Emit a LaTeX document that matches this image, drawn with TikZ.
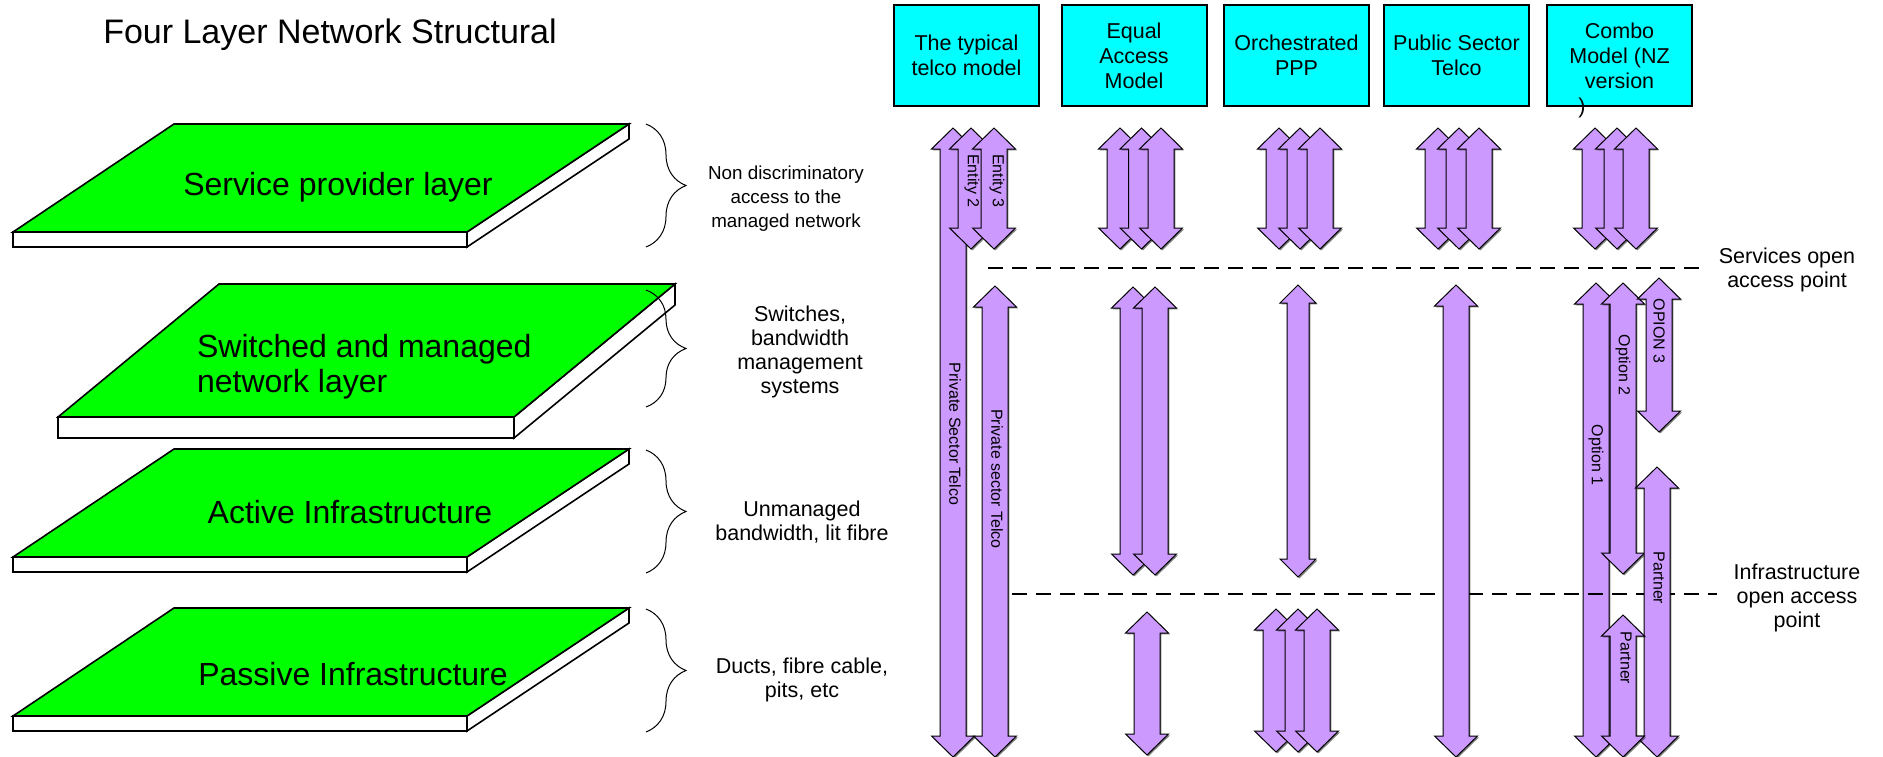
\documentclass[tikz,border=0pt]{standalone}
\usepackage{fontspec}
\setmainfont{Liberation Sans}
\usetikzlibrary{decorations.pathreplacing,shadows}

\definecolor{layergreen}{RGB}{0,255,0}
\definecolor{boxcyan}{RGB}{0,255,255}
\definecolor{arrowlilac}{RGB}{204,153,255}

% arrow sizes (half head width, half shaft width, head length)
\newcommand{\arwHead}{21.5}
\newcommand{\arwShaft}{13}
\newcommand{\arwLen}{21}
% x, top tip, bottom tip
\newcommand{\blockarrow}[3]{%
  \filldraw[arrowbox] (#1,#2) -- ({#1+\arwHead},{#2+\arwLen}) -- ({#1+\arwShaft},{#2+\arwLen})
    -- ({#1+\arwShaft},{#3-\arwLen}) -- ({#1+\arwHead},{#3-\arwLen}) -- (#1,#3)
    -- ({#1-\arwHead},{#3-\arwLen}) -- ({#1-\arwShaft},{#3-\arwLen})
    -- ({#1-\arwShaft},{#2+\arwLen}) -- ({#1-\arwHead},{#2+\arwLen}) -- cycle;}

\begin{document}
\begin{tikzpicture}[x=0.5pt,y=-0.5pt,
  layer/.style={fill=layergreen,draw=black,line width=0.8pt},
  slab/.style={fill=white,draw=black,line width=0.8pt},
  layertext/.style={font=\fontsize{16pt}{17.5pt}\selectfont},
  bracket/.style={decorate,decoration={brace,amplitude=20pt},line width=0.5pt},
  sidetext/.style={align=center,font=\fontsize{10.75pt}{12pt}\selectfont},
  hdrbox/.style={draw=black,line width=1pt,fill=boxcyan,minimum width=72.5pt,
    minimum height=50.5pt,align=center,font=\fontsize{10.75pt}{12.5pt}\selectfont},
  arrowbox/.style={fill=arrowlilac,draw=black,line width=0.5pt,
    drop shadow={shadow xshift=0.7pt,shadow yshift=-0.7pt,opacity=0.5,fill=black}},
  arrowtext/.style={rotate=-90,font=\fontsize{8pt}{9pt}\selectfont},
  openline/.style={dash pattern=on 7.5pt off 4.5pt,line width=0.9pt}]
\useasboundingbox (0,0) rectangle (1883,756);

\node[font=\fontsize{17pt}{20pt}\selectfont,anchor=base] (title) at (330,43) {Four Layer Network Structural};

% layers
\foreach \t in {124,449,608} {
  \filldraw[slab] (13,\t+108) rectangle (467,\t+123);
  \filldraw[slab] (467,\t+108) -- (629,\t) -- (629,\t+15) -- (467,\t+123) -- cycle;
  \filldraw[layer] (174,\t) -- (629,\t) -- (467,\t+108) -- (13,\t+108) -- cycle;
}
\filldraw[slab] (58,417) rectangle (514,438);
\filldraw[slab] (514,417) -- (675,284) -- (675,305) -- (514,438) -- cycle;
\filldraw[layer] (219,284) -- (675,284) -- (514,417) -- (58,417) -- cycle;

\node[layertext,anchor=base] (service) at (338,195) {Service provider layer};
\node[layertext,align=left,anchor=north west] (switched) at (190,327) {Switched and managed\\network layer};
\node[layertext,anchor=base] (active) at (350,523) {Active Infrastructure};
\node[layertext,anchor=base] (passive) at (353,685) {Passive Infrastructure};

% braces
\draw[bracket] (646,124) -- (646,247);
\draw[bracket] (646,290) -- (646,407);
\draw[bracket] (646,450) -- (646,573);
\draw[bracket] (646,609) -- (646,732);

\node[sidetext,font=\fontsize{9.4pt}{12pt}\selectfont] (nondisc) at (786,199) {Non discriminatory\\access to the\\managed network};
\node[sidetext] (switches) at (800,352) {Switches,\\bandwidth\\management\\systems};
\node[sidetext] (unmanaged) at (802,522) {Unmanaged\\bandwidth, lit fibre};
\node[sidetext] (ducts) at (802,680) {Ducts, fibre cable,\\pits, etc};

% models
\node[hdrbox] (typical) at (966.5,55.5) {The typical\\telco model};
\node[hdrbox] (equal) at (1134,55.5) {Equal\\Access\\Model};
\node[hdrbox] (ppp) at (1296.5,55.5) {Orchestrated\\PPP};
\node[hdrbox] (public) at (1456.5,55.5) {Public Sector\\Telco};
\node[hdrbox] (combo) at (1619.5,55.5) {Combo\\Model (NZ\\version};
\node[sidetext] (paren) at (1582,108) {)};

% typical telco
\blockarrow{953}{128}{757}
\blockarrow{971}{128}{249}
\blockarrow{994}{128}{249}
\blockarrow{995}{286}{757}
\node[arrowtext] (ent2) at (972,181) {Entity 2};
\node[arrowtext] (ent3) at (997,181) {Entity 3};
\node[arrowtext] (priv1) at (955,434) {Private Sector Telco};
\node[arrowtext] (priv2) at (997,479) {Private sector Telco};

% combo option 1 sits under the dashed line
\blockarrow{1596}{283}{757}
\node[arrowtext] (opt1) at (1596,455) {Option 1};

% open access points
\coordinate (svcL) at (988,268);
\coordinate (svcR) at (1707,268);
\coordinate (infL) at (1012,594);
\coordinate (infR) at (1717,594);
\draw[openline] (svcL) -- (svcR);
\draw[openline] (infL) -- (infR);
\node[sidetext] (svcopen) at (1787,270) {Services open\\access point};
\node[sidetext] (infopen) at (1797,598) {Infrastructure\\open access\\point};

% top groups
\foreach \cx in {1120,1141.5,1161,1279,1300,1320,1438,1459,1479,1595,1617,1636}
  \blockarrow{\cx}{128}{249};

% equal access
\blockarrow{1133}{287}{575}
\blockarrow{1155}{287}{575}
\blockarrow{1147}{612}{755}

% orchestrated ppp
{\renewcommand{\arwHead}{18}\renewcommand{\arwShaft}{11}\renewcommand{\arwLen}{18}
\blockarrow{1298}{285}{577}}
\blockarrow{1276}{609}{752}
\blockarrow{1298}{609}{752}
\blockarrow{1317}{609}{752}

% public sector
\blockarrow{1456}{285}{757}

% combo
\blockarrow{1623}{283}{574}
\blockarrow{1659}{278}{432}
\blockarrow{1657}{467}{757}
\blockarrow{1623}{615}{757}
\node[arrowtext] (opt2) at (1623,365) {Option 2};
\node[arrowtext] (opt3) at (1659,331) {OPION 3};
\node[arrowtext] (part1) at (1659,578) {Partner};
\node[arrowtext] (part2) at (1626,658) {Partner};
\end{tikzpicture}
\end{document}
